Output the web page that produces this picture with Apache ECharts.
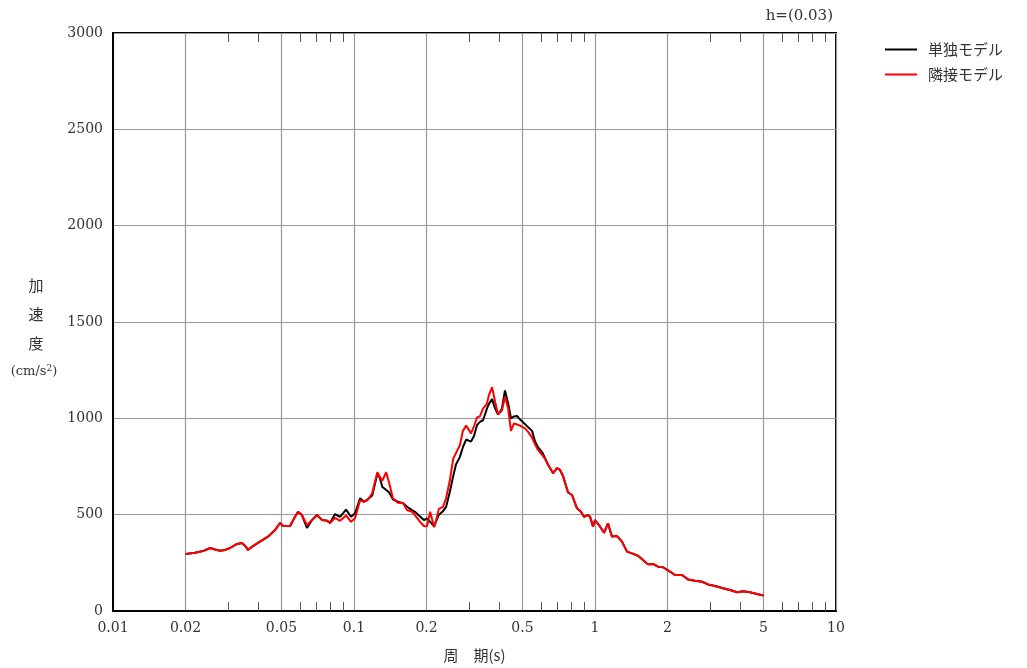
<!DOCTYPE html>
<html>
<head>
<meta charset="utf-8">
<title>加速度応答スペクトル</title>
<script src="https://cdn.jsdelivr.net/npm/echarts@6/dist/echarts.min.js"></script>
<style>
  html, body { margin: 0; padding: 0; background: #fff; }
  #chart { width: 1027px; height: 668px; }
</style>
</head>
<body>
<div id="chart"></div>
<script>
// period (s)
const periods = [
  0.020, 0.0219, 0.0236, 0.0253, 0.0265, 0.0278, 0.0292, 0.0306, 0.0327, 0.0343,
  0.0353, 0.0363, 0.0378, 0.0407, 0.0440, 0.0470, 0.0493, 0.0508, 0.0543, 0.0569,
  0.0586, 0.0608, 0.0638, 0.0670, 0.0702, 0.0737, 0.0773, 0.0795, 0.0834, 0.0875,
  0.0927, 0.0972, 0.101, 0.106, 0.110, 0.114, 0.119, 0.125, 0.128, 0.131,
  0.136, 0.140, 0.145, 0.152, 0.160, 0.166, 0.174, 0.179, 0.188, 0.195,
  0.201, 0.207, 0.215, 0.219, 0.225, 0.234, 0.241, 0.250, 0.258, 0.265,
  0.275, 0.283, 0.292, 0.297, 0.306, 0.315, 0.324, 0.333, 0.343, 0.356,
  0.363, 0.374, 0.385, 0.396, 0.411, 0.423, 0.436, 0.448, 0.461, 0.475,
  0.488, 0.512, 0.527, 0.548, 0.564, 0.580, 0.603, 0.620, 0.638, 0.670,
  0.696, 0.716, 0.737, 0.773, 0.803, 0.842, 0.875, 0.900, 0.935, 0.954,
  0.981, 1.00, 1.039, 1.090, 1.132, 1.176, 1.234, 1.294, 1.358, 1.424,
  1.508, 1.582, 1.659, 1.741, 1.826, 1.915, 2.047, 2.148, 2.296, 2.432,
  2.600, 2.780, 2.944, 3.148, 3.398, 3.633, 3.884, 4.113, 4.398, 4.701,
  5.0
]
// 単独モデル (cm/s2)
const accSingle = [
  296, 302, 311, 327, 319, 313, 317, 327, 348, 353,
  339, 317, 334, 360, 386, 420, 457, 441, 441, 489,
  515, 498, 431, 472, 498, 472, 469, 457, 503, 488,
  526, 489, 507, 585, 567, 580, 600, 712, 690, 645,
  628, 615, 580, 567, 559, 541, 524, 515, 490, 472,
  481, 463, 440, 430, 500, 518, 540, 620, 700, 760,
  800, 850, 890, 896, 879, 910, 965, 982, 990, 1050,
  1075, 1100, 1052, 1020, 1050, 1145, 1080, 1000, 1010, 1012,
  995, 970, 955, 935, 880, 850, 825, 795, 760, 715,
  741, 732, 700, 615, 602, 533, 515, 489, 498, 489,
  438, 472, 446, 406, 455, 386, 389, 360, 308, 299,
  287, 265, 242, 244, 230, 227, 204, 187, 187, 164,
  157, 152, 138, 130, 118, 109, 97, 102, 97, 88,
  80
]
// 隣接モデル (cm/s2)
const accAdjacent = [
  296, 302, 311, 327, 319, 313, 317, 327, 348, 353,
  339, 317, 334, 360, 386, 420, 457, 441, 441, 489,
  515, 498, 446, 472, 498, 472, 469, 457, 483, 468,
  496, 463, 481, 575, 567, 576, 611, 720, 697, 676,
  720, 663, 585, 562, 559, 524, 515, 498, 463, 441,
  440, 515, 435, 470, 530, 541, 585, 680, 790, 820,
  860, 935, 962, 955, 922, 960, 1005, 1010, 1050, 1075,
  1121, 1162, 1086, 1021, 1040, 1112, 1052, 935, 974, 968,
  962, 948, 931, 900, 865, 836, 810, 790, 760, 715,
  741, 732, 700, 615, 602, 533, 515, 489, 498, 489,
  438, 472, 446, 406, 455, 386, 389, 360, 308, 299,
  287, 265, 242, 244, 230, 227, 204, 187, 187, 164,
  157, 152, 138, 130, 118, 109, 97, 102, 97, 88,
  80
]
const seriesNames = ['単独モデル', '隣接モデル']
const majorTicks = [0.01, 0.02, 0.05, 0.1, 0.2, 0.5, 1, 2, 5, 10]
const minorTicks = [0.03, 0.04, 0.06, 0.07, 0.08, 0.09, 0.3, 0.4, 0.6, 0.7, 0.8, 0.9, 3, 4, 6, 7, 8, 9]

const serif = 'DejaVu Serif'
const jp = 'Noto Sans CJK JP'

const chart = echarts.init(document.getElementById('chart'))

function minorAxis(position) {
  return {
    type: 'log',
    logBase: 10,
    min: 0.01,
    max: 10,
    position: position,
    axisLine: { show: false },
    axisLabel: { show: false },
    splitLine: { show: false },
    axisTick: {
      show: true,
      inside: true,
      length: 9,
      customValues: minorTicks,
      lineStyle: { color: '#555', width: 1 }
    }
  }
}

chart.setOption({
  animation: false,
  grid: {
    left: 113,
    right: 191,
    top: 33,
    bottom: 57,
    show: true,
    borderColor: '#000',
    borderWidth: 2,
    containLabel: false
  },
  legend: {
    orient: 'vertical',
    left: 880,
    top: 37,
    icon: 'rect',
    itemWidth: 32,
    itemHeight: 2,
    itemGap: 10,
    textStyle: { fontFamily: jp, fontSize: 15, color: '#333', padding: [0, 0, 0, 6] },
    data: seriesNames
  },
  graphic: [
    {
      type: 'text',
      right: 194,
      top: 9,
      style: { text: 'h=(0.03)', font: '15px "DejaVu Serif"', fill: '#333' }
    },
    { type: 'text', x: 36, y: 285, style: { text: '加', font: '15px "Noto Sans CJK JP"', fill: '#333', align: 'center', verticalAlign: 'middle' } },
    { type: 'text', x: 36, y: 314, style: { text: '速', font: '15px "Noto Sans CJK JP"', fill: '#333', align: 'center', verticalAlign: 'middle' } },
    { type: 'text', x: 36, y: 343, style: { text: '度', font: '15px "Noto Sans CJK JP"', fill: '#333', align: 'center', verticalAlign: 'middle' } },
    {
      type: 'text',
      x: 34,
      y: 372,
      style: {
        text: '{n|(cm/s}{sup|2}{n|)}',
        align: 'center',
        verticalAlign: 'middle',
        rich: {
          n: { fontFamily: serif, fontSize: 13, fill: '#333' },
          sup: { fontFamily: serif, fontSize: 9, fill: '#333', padding: [0, 0, 7, 0] }
        }
      }
    }
  ],
  xAxis: [
    {
      type: 'log',
      logBase: 10,
      min: 0.01,
      max: 10,
      position: 'bottom',
      name: '周　期(s)',
      nameLocation: 'middle',
      nameGap: 37,
      nameTextStyle: { fontFamily: jp, fontSize: 15, color: '#333' },
      axisLine: { show: true, lineStyle: { color: '#000', width: 2 } },
      axisTick: { show: false, customValues: majorTicks },
      axisLabel: {
        customValues: majorTicks,
        fontFamily: serif,
        fontSize: 14,
        color: '#333',
        margin: 10,
        formatter: v => String(v)
      },
      splitLine: { show: true, lineStyle: { color: '#999', width: 1.2 } },
      minorSplitLine: { show: false }
    },
    minorAxis('bottom'),
    minorAxis('top')
  ],
  yAxis: {
    type: 'value',
    min: 0,
    max: 3000,
    interval: 500,
    axisLine: { show: true, lineStyle: { color: '#000', width: 2 } },
    axisTick: { show: false },
    axisLabel: {
      fontFamily: serif,
      fontSize: 14,
      color: '#333',
      margin: 10,
      formatter: v => String(v)
    },
    splitLine: { show: true, lineStyle: { color: '#999', width: 1.2 } }
  },
  series: [
    {
      name: seriesNames[0],
      type: 'line',
      showSymbol: false,
      symbol: 'none',
      color: '#000',
      lineStyle: { color: '#000', width: 2 },
      data: periods.map((p, i) => [p, accSingle[i]])
    },
    {
      name: seriesNames[1],
      type: 'line',
      showSymbol: false,
      symbol: 'none',
      color: '#ff0000',
      lineStyle: { color: '#ff0000', width: 2 },
      data: periods.map((p, i) => [p, accAdjacent[i]])
    }
  ]
})
</script>
</body>
</html>
